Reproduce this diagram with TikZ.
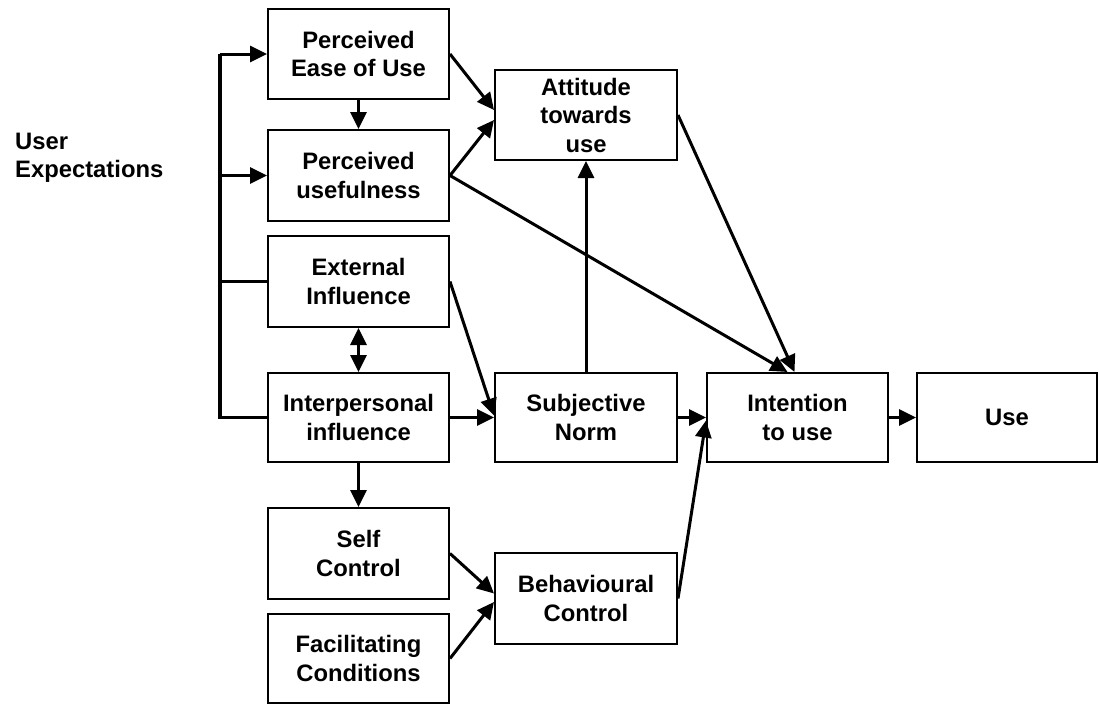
\documentclass[tikz,border=0pt]{standalone}
\usepackage{fontspec}
\setmainfont{Liberation Sans}
\usetikzlibrary{arrows.meta}
\begin{document}
\begin{tikzpicture}[x=1pt,y=-1pt,
  box/.style={draw, line width=2pt, minimum width=181pt, minimum height=90pt, inner sep=0pt,
    align=center, font=\fontsize{23.8}{28.5}\selectfont\bfseries},
  conn/.style={line width=3pt},
  arr/.style={conn, -{Triangle[length=17pt,width=16pt]}},
  darr/.style={conn, {Triangle[length=17pt,width=16pt]}-{Triangle[length=17pt,width=16pt]}},
  lbl/.style={font=\fontsize{23.8}{28.5}\selectfont\bfseries, align=left, inner sep=0pt}
]
\useasboundingbox (0,0) rectangle (1099,704);
\node[box] (peou) at (358.5,54) {Perceived\\Ease of Use};
\node[box, minimum height=91pt] (pu) at (358.5,175.5) {Perceived\\usefulness};
\node[box, minimum height=91pt] (ext) at (358.5,281.5) {External\\Influence};
\node[box, minimum height=89pt] (inter) at (358.5,417.5) {Interpersonal\\influence};
\node[box, minimum height=91pt] (self) at (358.5,553.5) {Self\\Control};
\node[box, minimum height=89pt] (fac) at (358.5,658.5) {Facilitating\\Conditions};
\node[box, minimum width=182pt] (att) at (586,115) {Attitude\\towards\\use};
\node[box, minimum width=182pt, minimum height=89pt] (sn) at (586,417.5) {Subjective\\Norm};
\node[box, minimum width=182pt, minimum height=91pt] (beh) at (586,598.5) {Behavioural\\Control};
\node[box, minimum height=89pt] (int) at (797.5,417.5) {Intention\\to use};
\node[box, minimum width=180pt, minimum height=89pt] (use) at (1007,417.5) {Use};
\node[lbl, anchor=west] (ue) at (15,158) {User\\Expectations};
\coordinate (bx) at (220,0);
% bracket
\draw[conn, line width=3.2pt, line join=miter] (bx |- peou.west) -- (bx |- inter.west) -- (inter.west);
\draw[arr] (bx |- peou.west) -- (peou.west);
\draw[arr] (bx |- pu.west) -- (pu.west);
\draw[conn] (bx |- ext.west) -- (ext.west);
% connectors
\draw[arr] (peou.south) -- (pu.north);
\draw[darr] (ext.south) -- (inter.north);
\draw[arr] (inter.south) -- (self.north);
\draw[arr] (peou.east) -- ([yshift=5pt]att.west);
\draw[arr] (pu.east) -- ([yshift=-5pt]att.west);
\draw[arr] (pu.east) -- ([xshift=-10pt]int.north);
\draw[arr] (att.east) -- ([xshift=-3pt]int.north);
\draw[arr] (ext.east) -- ([yshift=2pt]sn.west);
\draw[arr] (inter.east) -- (sn.west);
\draw[arr] (sn.north) -- (att.south);
\draw[arr] (sn.east) -- (int.west);
\draw[arr] (beh.east) -- ([yshift=-3pt]int.west);
\draw[arr] (self.east) -- ([yshift=5pt]beh.west);
\draw[arr] (fac.east) -- ([yshift=-3.5pt]beh.west);
\draw[arr] (int.east) -- (use.west);
\end{tikzpicture}
\end{document}
